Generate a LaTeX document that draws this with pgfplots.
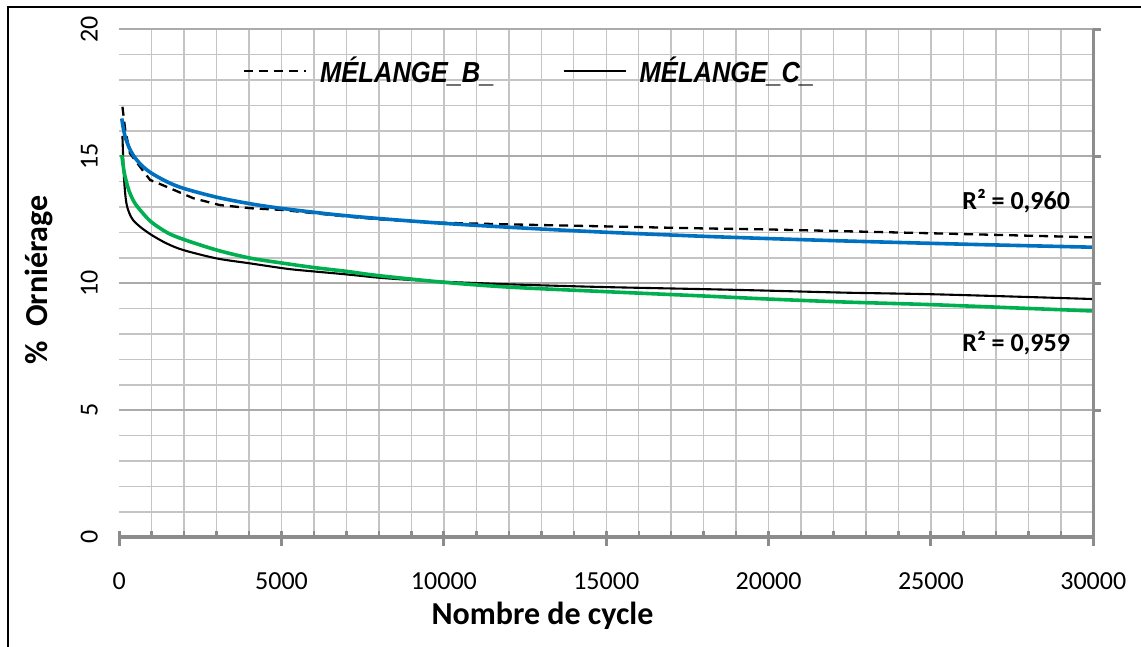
\documentclass[border=0pt]{standalone}
\usepackage{fontspec}
\setmainfont{Carlito}
\newfontfamily\legfont{Liberation Sans}[FakeStretch=0.88]
\usepackage{pgfplots}
\pgfplotsset{compat=1.18}
\definecolor{gridminor}{HTML}{C4C4C4}
\definecolor{gridmajor}{HTML}{ABABAB}
\definecolor{axgray}{HTML}{8C8C8C}
\definecolor{tblue}{HTML}{0070C0}
\definecolor{tgreen}{HTML}{00B050}
\begin{document}
\begin{tikzpicture}
\useasboundingbox (0,0) rectangle (570.5pt,323.5pt);
\draw[line width=1.2pt] (4pt,0) -- (4pt,320pt) -- (570.5pt,320pt);
\begin{axis}[
  at={(59.6pt,54.85pt)}, anchor=south west,
  scale only axis, width=487.05pt, height=254pt,
  xmin=0, xmax=30000, ymin=0, ymax=20,
  clip=false,
  xtick={0,5000,...,30000}, ytick={0,5,...,20},
  minor xtick={1000,2000,...,30000}, minor ytick={1,2,...,19},
  xmajorgrids=false, xminorgrids=true, ymajorgrids=true, yminorgrids=true,
  minor grid style={gridminor, line width=0.7pt},
  major grid style={gridmajor, line width=0.8pt},
  axis line style={draw=none},
  major tick length=0pt, minor tick length=0pt,
  scaled x ticks=false,
  xticklabel={\pgfmathprintnumber[assume math mode=true,set thousands separator={}]{\tick}},
  yticklabel={\pgfmathprintnumber[assume math mode=true]{\tick}},
  tick label style={font=\fontsize{13}{15}\selectfont},
  xticklabel style={inner sep=0pt, anchor=north, yshift=-17.3pt},
  yticklabel style={inner sep=0pt, anchor=south, xshift=-10.5pt, rotate=90},
  legend style={draw=none, fill=none, at={(axis description cs:0.127,0.918)}, anchor=west,
    legend columns=2, inner sep=0pt, outer sep=0pt, nodes={inner sep=0pt},
    font=\legfont\bfseries\itshape\fontsize{14.5}{16}\selectfont,
    /tikz/every even column/.append style={column sep=34pt}},
  legend image code/.code={\draw[#1] (0pt,0pt) -- (31pt,0pt); \path (37.5pt,0pt);},
]
% MÉLANGE_B_ (data)
\addplot[black, line width=1.15pt, dash pattern=on 4.5pt off 3pt] coordinates {
(100,16.95) (180,16.10) (330,15.12) (640,14.59) (950,14.07) (1460,13.80) (2280,13.35)
(3100,13.08) (4100,12.95) (5000,12.89) (6000,12.76) (7000,12.63) (8000,12.52) (9000,12.44)
(10000,12.38) (11000,12.35) (12000,12.32) (15000,12.24) (18000,12.16) (20000,12.12)
(25000,11.97) (30000,11.81)};
\addlegendentry{MÉLANGE\_B\_}
% MÉLANGE_C_ (data)
\addplot[black, line width=1.05pt, smooth] coordinates {
(100,15.80) (150,14.10) (230,13.10) (390,12.56) (640,12.23) (1000,11.90) (1460,11.57)
(1970,11.31) (3000,10.98) (4000,10.79) (5000,10.60) (5540,10.52) (7000,10.35) (8000,10.22)
(9000,10.13) (10000,10.06) (11000,10.01) (12000,9.96) (13000,9.92) (15000,9.85)
(18000,9.77) (20000,9.71) (22400,9.63) (25000,9.57) (28000,9.46) (30000,9.38)};
\addlegendentry{MÉLANGE\_C\_}
% trend B
\addplot[tblue, line width=1.8pt, smooth, forget plot] coordinates {
(80,16.49) (110,16.22) (150,15.95) (200,15.70) (300,15.36) (400,15.11) (500,14.92)
(700,14.63) (1000,14.33) (1500,13.98) (2000,13.73) (3000,13.39) (4000,13.14) (5000,12.95)
(7000,12.66) (10000,12.36) (14000,12.07) (18000,11.85) (22000,11.68) (26000,11.54) (30000,11.42)};
% trend C
\addplot[tgreen, line width=1.8pt, smooth, forget plot] coordinates {
(80,15.05) (110,14.75) (150,14.40) (200,14.10) (300,13.65) (400,13.35) (500,13.12)
(700,12.80) (1000,12.40) (1500,11.98) (2000,11.72) (3000,11.31) (4000,11.00) (5000,10.80)
(6000,10.62) (7000,10.47) (8000,10.30) (10000,10.04) (12000,9.85) (15000,9.67) (18000,9.50)
(20000,9.38) (22400,9.26) (25000,9.16) (28000,9.01) (30000,8.91)};
% axis lines and ticks
\draw[axgray, line width=1.8pt] (axis cs:0,0) -- (axis cs:30000,0);
\draw[axgray, line width=1.6pt] (axis cs:30000,0) -- (axis cs:30000,20);
\pgfplotsinvokeforeach{0,5000,10000,15000,20000,25000,30000}{
  \draw[axgray, line width=1.5pt] ([yshift=-4.2pt]axis cs:#1,0) -- ([yshift=3.3pt]axis cs:#1,0);}
\pgfplotsinvokeforeach{1000,2000,3000,4000,6000,7000,8000,9000,11000,12000,13000,14000,16000,17000,18000,19000,21000,22000,23000,24000,26000,27000,28000,29000}{
  \draw[axgray, line width=1.2pt] (axis cs:#1,0) -- ([yshift=3.3pt]axis cs:#1,0);}
\pgfplotsinvokeforeach{5,10,15,20}{
  \draw[axgray, line width=1.5pt] (axis cs:30000,#1) -- ([xshift=4pt]axis cs:30000,#1);}
\end{axis}
\node[anchor=base west, inner sep=0pt, font=\bfseries\fontsize{13}{15}\selectfont] at (481pt,218.5pt) {R² = 0,960};
\node[anchor=base west, inner sep=0pt, font=\bfseries\fontsize{13}{15}\selectfont] at (481pt,147.65pt) {R² = 0,959};
\node[anchor=base, inner sep=0pt, font=\bfseries\fontsize{16}{19}\selectfont] at (271.25pt,11pt) {Nombre de cycle};
\node[anchor=base, inner sep=0pt, rotate=90, font=\bfseries\fontsize{16}{19}\selectfont] at (24pt,183.5pt) {\%\ \ Orniérage};
\end{tikzpicture}
\end{document}
